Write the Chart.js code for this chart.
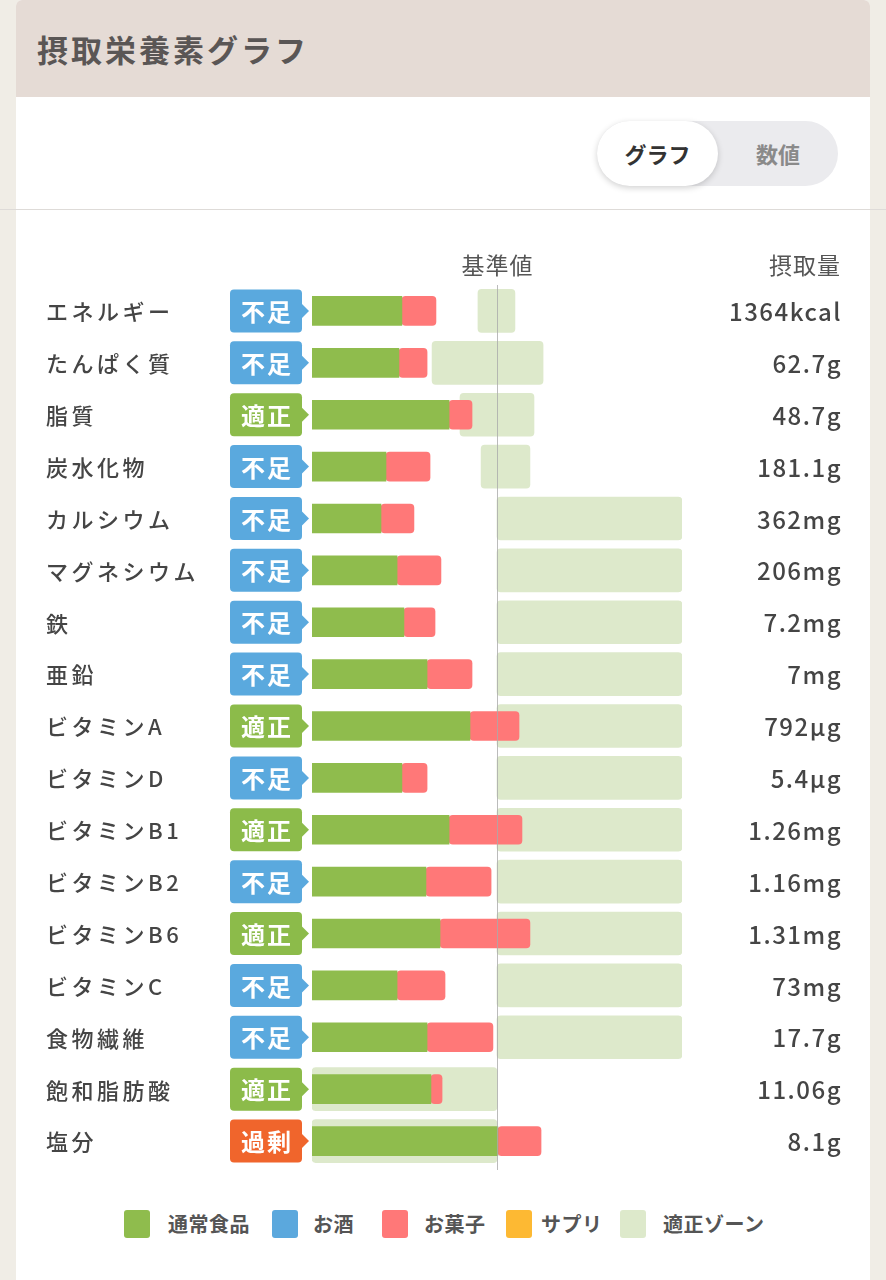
<!DOCTYPE html>
<html lang="ja">
<head>
<meta charset="utf-8">
<script src="https://cdn.jsdelivr.net/npm/chart.js@4.4.1/dist/chart.umd.min.js"></script>
<style>
  html, body { margin: 0; padding: 0; }
  body {
    width: 886px; height: 1280px; overflow: hidden;
    background: #f0ede6;
    font-family: "Noto Sans CJK JP", "Noto Sans", sans-serif;
    position: relative;
  }
  .card {
    position: absolute; left: 16px; top: 0; width: 854px; height: 1280px;
    background: #fff; border-radius: 6px 6px 0 0; overflow: hidden;
  }
  .head {
    height: 97px; background: #e5dbd5; box-sizing: border-box;
    padding-left: 21px; line-height: 97px;
    font-size: 31px; font-weight: 700; color: #5a5655; letter-spacing: 3px;
  }
  .tools { height: 112px; border-bottom: 1px solid #dedbd8; position: relative; }
  .toggle {
    position: absolute; left: 581px; top: 24px; width: 241px; height: 65px;
    border-radius: 33px; background: #ebebee;
  }
  .toggle .on {
    position: absolute; left: 0; top: 0; width: 121px; height: 65px; border-radius: 33px;
    background: #fff; box-shadow: 0 2px 6px rgba(0,0,0,0.18);
    text-align: center; line-height: 65px; font-size: 22px; font-weight: 700; color: #333;
  }
  .toggle .off {
    position: absolute; left: 121px; top: 0; width: 120px; height: 65px;
    text-align: center; line-height: 65px; font-size: 22px; font-weight: 700; color: #8a8a8a;
  }
  .sideline { position: absolute; top: 209px; height: 1px; background: #dedbd8; width: 16px; }
  #wrap { position: absolute; left: 0; top: 210px; width: 854px; height: 990px; }
  .legend {
    position: absolute; left: 0; top: 1210px; width: 854px; height: 28px;
    font-size: 20px; font-weight: 700; color: #555; letter-spacing: 0.5px;
  }
  .legend span { position: absolute; top: 0; line-height: 28px; }
  .legend i { position: absolute; top: 0; width: 26px; height: 28px; border-radius: 3px; }
</style>
</head>
<body>
<div class="sideline" style="left:0"></div>
<div class="sideline" style="left:870px"></div>
<div class="card">
  <div class="head">摂取栄養素グラフ</div>
  <div class="tools">
    <div class="toggle"><div class="on">グラフ</div><div class="off">数値</div></div>
  </div>
  <div id="wrap"><canvas id="nutriChart"></canvas></div>
  <div class="legend">
    <i style="left:108px;background:#8fbc4d"></i><span style="left:152px">通常食品</span>
    <i style="left:256px;background:#5ba8dd"></i><span style="left:297px">お酒</span>
    <i style="left:366px;background:#ff7878"></i><span style="left:408px">お菓子</span>
    <i style="left:490px;background:#fdb933"></i><span style="left:525px">サプリ</span>
    <i style="left:604px;background:#dde9cb"></i><span style="left:647px">適正ゾーン</span>
  </div>
</div>

<script>
// 栄養素名
var nutrients = ['エネルギー', 'たんぱく質', '脂質', '炭水化物', 'カルシウム', 'マグネシウム', '鉄', '亜鉛',
    'ビタミンA', 'ビタミンD', 'ビタミンB1', 'ビタミンB2', 'ビタミンB6', 'ビタミンC', '食物繊維', '飽和脂肪酸', '塩分'];
// 判定
var statuses = ['不足', '不足', '適正', '不足', '不足', '不足', '不足', '不足',
    '適正', '不足', '適正', '不足', '適正', '不足', '不足', '適正', '過剰'];
// 摂取量(表示用)
var intakes = ['1364kcal', '62.7g', '48.7g', '181.1g', '362mg', '206mg', '7.2mg', '7mg',
    '792µg', '5.4µg', '1.26mg', '1.16mg', '1.31mg', '73mg', '17.7g', '11.06g', '8.1g'];
// 基準値に対する割合(%)
var foodPct  = [48.6, 47.0, 74.1, 40.0, 37.3, 46.0, 49.7, 62.2, 85.4, 48.6, 74.1, 61.6, 69.2, 46.0, 62.2, 64.3, 100.5];
var snackPct = [18.4, 15.2, 12.4, 23.8, 17.8, 23.7, 16.8, 24.3, 26.5, 13.6, 39.4, 35.2, 48.6, 25.9, 35.6, 6.0, 23.3];
var zoneLow  = [89.7, 64.9, 80.0, 91.4, 100, 100, 100, 100, 100, 100, 100, 100, 100, 100, 100, 0, 0];
var zoneHigh = [109.7, 124.9, 120.0, 117.8, 200, 200, 200, 200, 200, 200, 200, 200, 200, 200, 200, 100, 100];

var badgeColors = { '不足': '#5aa9de', '適正': '#8cbb4a', '過剰': '#f0652c' };

function roundRect(ctx, x, y, w, h, r) {
    ctx.beginPath();
    ctx.moveTo(x + r, y);
    ctx.lineTo(x + w - r, y);
    ctx.quadraticCurveTo(x + w, y, x + w, y + r);
    ctx.lineTo(x + w, y + h - r);
    ctx.quadraticCurveTo(x + w, y + h, x + w - r, y + h);
    ctx.lineTo(x + r, y + h);
    ctx.quadraticCurveTo(x, y + h, x, y + h - r);
    ctx.lineTo(x, y + r);
    ctx.quadraticCurveTo(x, y, x + r, y);
    ctx.closePath();
}

// ラベル・判定バッジ・摂取量・基準線
var sidePlugin = {
    id: 'sidePlugin',
    afterDatasetsDraw: function (chart) {
        var ctx = chart.ctx, x = chart.scales.x, y = chart.scales.y, area = chart.chartArea;
        var px = Math.round(x.getPixelForValue(100)) + 0.5;
        ctx.save();
        ctx.strokeStyle = 'rgba(170,170,170,0.8)';
        ctx.lineWidth = 1;
        ctx.beginPath();
        ctx.moveTo(px, area.top);
        ctx.lineTo(px, area.bottom + 3);
        ctx.stroke();

        ctx.textBaseline = 'middle';
        ctx.fillStyle = '#555';
        ctx.font = '400 23px "Noto Sans CJK JP"';
        ctx.letterSpacing = '1px';
        ctx.textAlign = 'center';
        ctx.fillText('基準値', px, 55);
        ctx.textAlign = 'right';
        ctx.fillText('摂取量', 825, 55);

        nutrients.forEach(function (name, i) {
            var cy = y.getPixelForValue(i);
            ctx.fillStyle = '#454545';
            ctx.textAlign = 'left';
            ctx.letterSpacing = '3.5px';
            ctx.font = '500 22px "Noto Sans CJK JP"';
            ctx.fillText(name, 30, cy + 1);

            ctx.textAlign = 'right';
            ctx.letterSpacing = '1.5px';
            ctx.font = '500 24px "Noto Sans CJK JP"';
            ctx.fillText(intakes[i], 826, cy + 1);

            // バッジ
            var bx = 214, bw = 72, bh = 43, by = cy - bh / 2;
            ctx.fillStyle = badgeColors[statuses[i]];
            roundRect(ctx, bx, by, bw, bh, 4);
            ctx.fill();
            ctx.beginPath();
            ctx.moveTo(bx + bw - 1, cy - 8);
            ctx.lineTo(bx + bw + 7, cy);
            ctx.lineTo(bx + bw - 1, cy + 8);
            ctx.closePath();
            ctx.fill();
            ctx.fillStyle = '#fff';
            ctx.textAlign = 'center';
            ctx.letterSpacing = '2px';
            ctx.font = '700 24px "Noto Sans CJK JP"';
            ctx.fillText(statuses[i], bx + bw / 2 + 1, cy + 1);
            ctx.letterSpacing = '0px';
        });
        ctx.restore();
    }
};

document.addEventListener('DOMContentLoaded', function () {
    var ctx = document.getElementById('nutriChart').getContext('2d');
    var nutriChart = new Chart(ctx, {
        type: 'bar',
        data: {
            labels: nutrients,
            datasets: [{
                label: '通常食品',
                data: foodPct,
                backgroundColor: '#8fbc4d',
                stack: 'intake',
                grouped: false,
                barThickness: 29,
                borderRadius: 4,
                borderSkipped: false
            }, {
                label: 'お菓子',
                data: snackPct,
                backgroundColor: '#ff7878',
                stack: 'intake',
                grouped: false,
                barThickness: 29,
                borderRadius: 4,
                borderSkipped: false
            }, {
                label: '適正ゾーン',
                data: zoneLow.map(function (lo, i) { return [lo, zoneHigh[i]]; }),
                backgroundColor: '#dde9cb',
                stack: 'zone',
                grouped: false,
                barThickness: 43,
                borderRadius: 4,
                borderSkipped: false
            }]
        },
        options: {
            indexAxis: 'y',
            responsive: true,
            maintainAspectRatio: false,
            animation: false,
            layout: {
                padding: { left: 296, right: 188, top: 75, bottom: 33 }
            },
            scales: {
                x: { display: false, stacked: true, min: 0, max: 200 },
                y: { display: false, stacked: true }
            },
            plugins: {
                legend: { display: false },
                tooltip: { enabled: false }
            }
        },
        plugins: [sidePlugin]
    });
});
</script>
</body>
</html>
